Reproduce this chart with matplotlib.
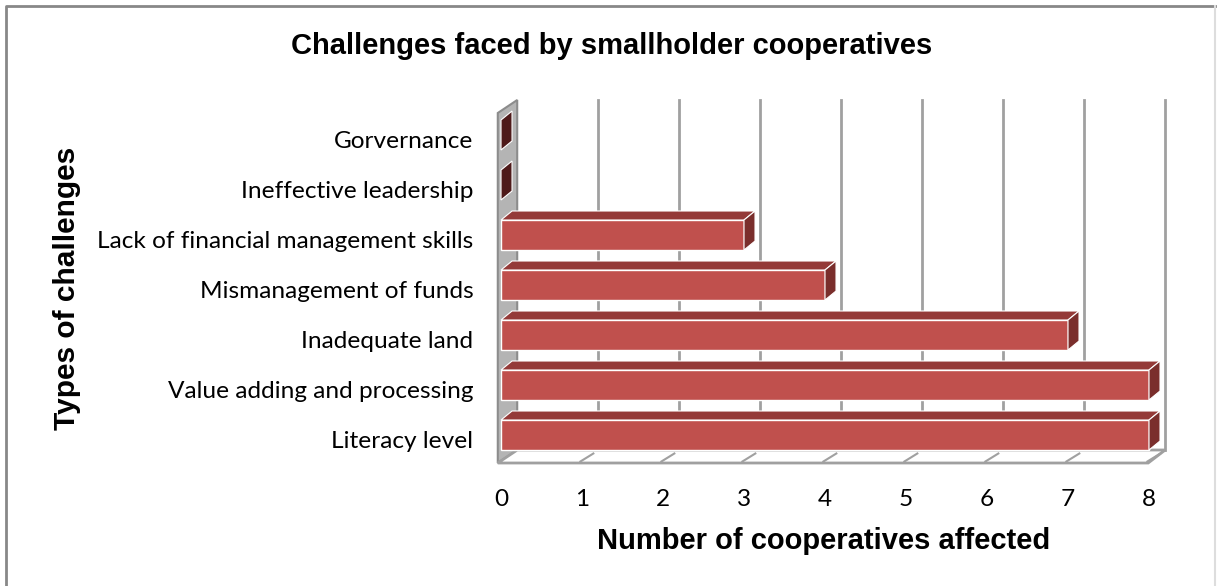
import numpy as np
import matplotlib.pyplot as plt
import matplotlib.transforms as mtransforms
from matplotlib.patches import Polygon, Rectangle

# data (bottom to top)
challenges = ['Literacy level', 'Value adding and processing', 'Inadequate land',
              'Mismanagement of funds', 'Lack of financial management skills',
              'Ineffective leadership', 'Gorvernance']
counts = [8, 8, 7, 4, 3, 0, 0]
x_ticks = [0, 1, 2, 3, 4, 5, 6, 7, 8]

W, H = 1217, 586
fig = plt.figure(figsize=(W / 100, H / 100), dpi=100)

def fx(px):
    return px / W

def fy(py):
    return 1 - py / H

# plot area in pixels
left, right, top, bottom = 490, 1175, 95, 470
ax = fig.add_axes([fx(left), fy(bottom), fx(right) - fx(left), fy(top) - fy(bottom)])
ax.set_xlim(-0.136, 8.321)
ax.set_ylim(-0.7, 6.8)
for s in ax.spines.values():
    s.set_visible(False)

# 3D-ish geometry
dx, dy = 0.136, 0.18     # bar depth
wdx = 0.2                # wall offset
floor_f, floor_b = -0.56, -0.30
wall_top = 6.7
grid_col = '#a0a0a0'

# left wall
ax.add_patch(Polygon([(-0.04, floor_f), (-0.04, wall_top - 0.26), (wdx, wall_top), (wdx, floor_b)],
                     closed=True, fc='#b4b4b4', ec='#8c8c8c', lw=1.5, zorder=1))
# floor
ax.add_patch(Polygon([(-0.04, floor_f), (7.99, floor_f), (8.0 + wdx, floor_b), (wdx, floor_b)],
                     closed=True, fc='white', ec=grid_col, lw=2, zorder=1))
# back wall gridlines
for k in x_ticks[1:]:
    ax.plot([k + wdx, k + wdx], [floor_b, wall_top], color=grid_col, lw=2, zorder=0.5)
# floor slashes
for k in x_ticks[1:]:
    ax.plot([k - 0.02, k + 0.14], [floor_f + 0.03, floor_f + 0.19], color=grid_col, lw=1.5, zorder=1.2)

# bars, drawn from top row down so lower bars sit in front
h = 0.3
for i in range(len(counts) - 1, -1, -1):
    v = counts[i]
    z = 3 + (len(counts) - i)
    side_col = '#4e1a1a' if v == 0 else '#7a2e2c'
    if v > 0:
        ax.add_patch(Rectangle((0, i - h), v, 2 * h, fc='#c0504d', ec='white', lw=1, zorder=z))
        ax.add_patch(Polygon([(0, i + h), (v, i + h), (v + dx, i + h + dy), (dx, i + h + dy)],
                             closed=True, fc='#943a38', ec='white', lw=0.8, zorder=z))
    ax.add_patch(Polygon([(v, i - h), (v, i + h), (v + dx, i + h + dy), (v + dx, i - h + dy)],
                         closed=True, fc=side_col, ec='white', lw=0.8, zorder=z))

label_font = 'Lato'
ax.set_yticks(range(len(challenges)))
ax.set_yticklabels(challenges, fontsize=17.6, family=label_font)
ax.set_xticks(x_ticks)
ax.set_xticklabels([str(k) for k in x_ticks], fontsize=17.6, family=label_font)
ax.tick_params(axis='y', length=0, pad=12)
ax.tick_params(axis='x', length=0, pad=14)
# nudge the category labels down a little, like the original
shift = mtransforms.ScaledTranslation(0, -0.04, fig.dpi_scale_trans)
for lbl in ax.get_yticklabels():
    lbl.set_transform(lbl.get_transform() + shift)

fig.text(fx(612), fy(46), 'Challenges faced by smallholder cooperatives', ha='center', va='center',
         fontsize=21, fontweight='bold', family='Liberation Sans')
fig.text(fx(824), fy(541), 'Number of cooperatives affected', ha='center', va='center',
         fontsize=21, fontweight='bold', family='Liberation Sans')
fig.text(fx(67), fy(288), 'Types of challenges', ha='center', va='center', rotation=90,
         fontsize=21.5, fontweight='bold', family='Liberation Sans')

# chart border
fig.add_artist(plt.Line2D([fx(6), fx(6), fx(1215)], [0, fy(6), fy(6)], transform=fig.transFigure,
                          color='#888888', lw=2))
fig.add_artist(plt.Line2D([fx(1215), fx(1215)], [0, fy(6)], transform=fig.transFigure,
                          color='#dddddd', lw=1.5))

fig.savefig('out.png', dpi=100, facecolor='white')
